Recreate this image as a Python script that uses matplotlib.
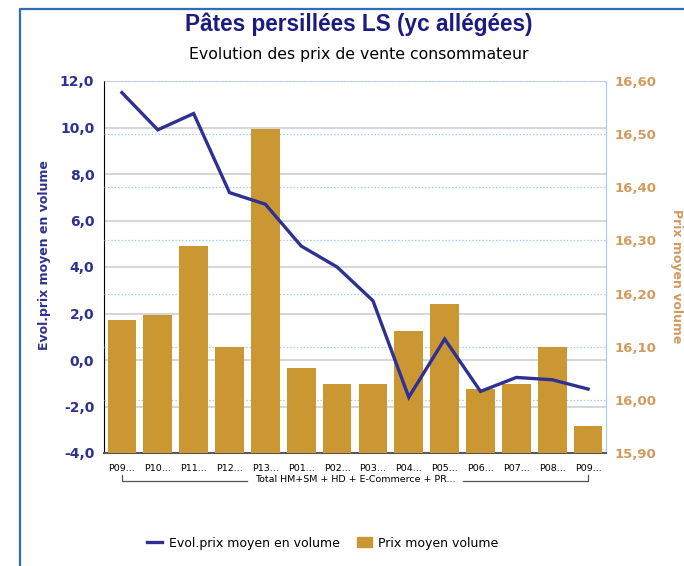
import matplotlib
matplotlib.use("Agg")
import matplotlib.pyplot as plt
from matplotlib.lines import Line2D
from matplotlib.patches import Patch
from matplotlib.ticker import FuncFormatter

periods = ["P09...", "P10...", "P11...", "P12...", "P13...", "P01...", "P02...",
           "P03...", "P04...", "P05...", "P06...", "P07...", "P08...", "P09..."]
evol_prix = [11.5, 9.9, 10.6, 7.2, 6.7, 4.9, 4.0, 2.55, -1.6, 0.9, -1.35, -0.75, -0.85, -1.25]
prix_moyen = [16.15, 16.16, 16.29, 16.10, 16.51, 16.06, 16.03, 16.03, 16.13, 16.18,
              16.02, 16.03, 16.10, 15.95]
group_label = "Total HM+SM + HD + E-Commerce + PR..."

NAVY = "#2E3192"
TAN = "#CA9732"
TAN_TXT = "#D39A5E"

fig = plt.figure(figsize=(6.84, 5.66), dpi=100)

# outer frame (left + top)
fig.add_artist(Line2D([20 / 684, 20 / 684, 1.0], [0.0, 1 - 9 / 566, 1 - 9 / 566],
                      transform=fig.transFigure, color="#2F6DB5", lw=1.6))

fig.text(359 / 684, 1 - 24 / 566, "Pâtes persillées LS (yc allégées)", ha="center", va="center",
         fontsize=16.3, fontweight="bold", color="#1C1C80", family="Liberation Sans")
fig.text(359 / 684, 1 - 55 / 566, "Evolution des prix de vente consommateur", ha="center",
         va="center", fontsize=11.3, color="black")

ax = fig.add_axes([104 / 684, 1 - 453 / 566, 502 / 684, 372 / 566])
ax2 = ax.twinx()
ax3 = ax.twinx()

x = list(range(len(periods)))

# left scale: grid only
ax.set_ylim(-4, 12)
ax.set_yticks(range(-4, 13, 2))
ax.yaxis.set_major_formatter(FuncFormatter(lambda v, p: f"{v:.1f}".replace(".", ",")))
ax.grid(axis="y", color="#D0D0D0", lw=1.2, ls="-")
ax.set_xlim(-0.5, len(periods) - 0.5)
ax.set_xticks(x)
ax.set_xticklabels(periods, fontsize=6.8)
ax.tick_params(axis="x", length=0, pad=8)
ax.tick_params(axis="y", length=0, pad=7, labelsize=10, labelcolor=NAVY)
for lbl in ax.get_yticklabels():
    lbl.set_fontweight("bold")
ax.spines["top"].set_visible(False)
ax.spines["left"].set_color("black")
ax.spines["bottom"].set_color("#555555")
ax.spines["bottom"].set_linewidth(1.5)
ax.spines["right"].set_color("#A6C8F0")

# right scale: bars
ax2.bar(x, [v - 15.90 for v in prix_moyen], bottom=15.90, width=0.8, color=TAN, zorder=2)
ax2.set_ylim(15.90, 16.60)
ax2.set_yticks([15.90 + 0.1 * i for i in range(8)])
ax2.yaxis.set_major_formatter(FuncFormatter(lambda v, p: f"{v:.2f}".replace(".", ",")))
ax2.set_axisbelow(True)
ax2.grid(axis="y", color="#99CCFF", lw=0.9, ls=(0, (1.2, 1.5)))
ax2.tick_params(axis="y", length=0, pad=6, labelsize=9.5, labelcolor=TAN_TXT)
for lbl in ax2.get_yticklabels():
    lbl.set_fontweight("bold")
for s in ax2.spines.values():
    s.set_visible(False)

# line on left scale, drawn on top
ax3.plot(x, evol_prix, color=NAVY, lw=2.4, solid_joinstyle="miter")
ax3.set_ylim(-4, 12)
ax3.yaxis.set_visible(False)
for s in ax3.spines.values():
    s.set_visible(False)

fig.text(45 / 684, 1 - 255 / 566, "Evol.prix moyen en volume", rotation=90, ha="center",
         va="center", fontsize=9, fontweight="bold", color=NAVY)
fig.text(677 / 684, 1 - 276 / 566, "Prix moyen volume", rotation=270, ha="center",
         va="center", fontsize=9, fontweight="bold", color=TAN_TXT)

# category group bracket
tr = ax.get_xaxis_transform()
n = len(periods)
yb, yt = -0.076, -0.060
ax.plot([0, 0, 3.5], [yt, yb, yb], transform=tr, color="#555555", lw=0.9, clip_on=False)
ax.plot([9.5, n - 1, n - 1], [yb, yb, yt], transform=tr, color="#555555", lw=0.9, clip_on=False)
ax.text((n - 1) / 2, -0.071, group_label, transform=tr, ha="center", va="center", fontsize=6.8)

handles = [Line2D([], [], color=NAVY, lw=2.4), Patch(color=TAN)]
fig.legend(handles, ["Evol.prix moyen en volume", "Prix moyen volume"], loc="center",
           bbox_to_anchor=(323 / 684, 1 - 543 / 566), ncol=2, frameon=False, fontsize=9,
           handlelength=1.2, handleheight=0.9, columnspacing=1.4, handletextpad=0.5)

fig.savefig("out.png", dpi=100)
